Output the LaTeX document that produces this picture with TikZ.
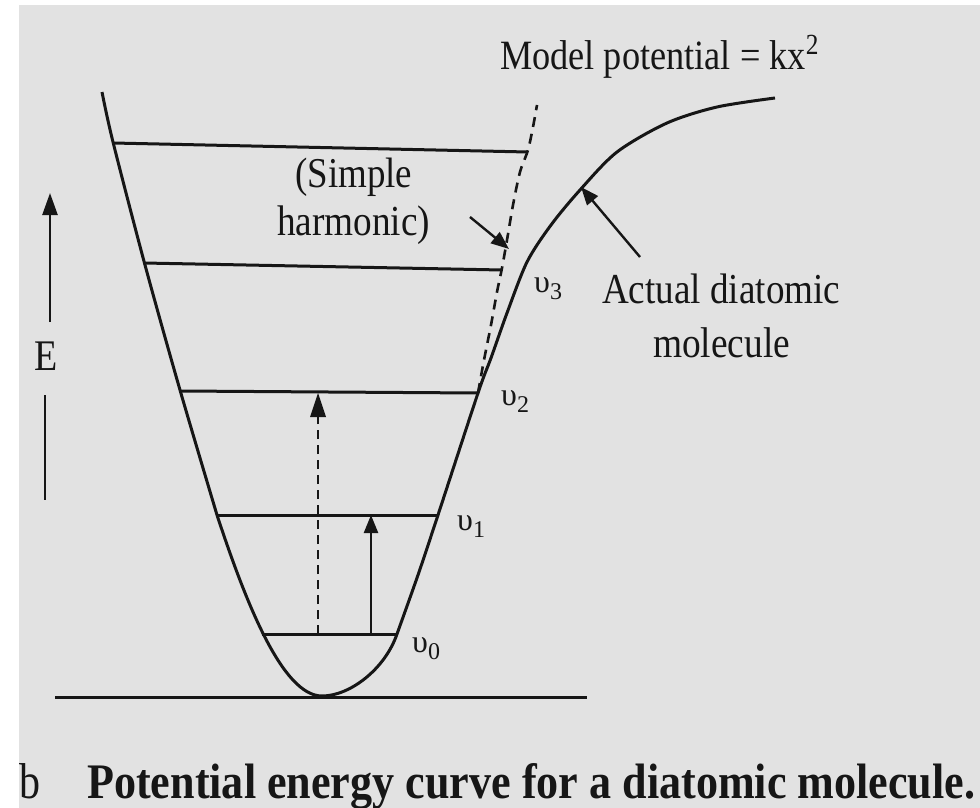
\documentclass[tikz,border=0pt]{standalone}
\usepackage{fontspec}
\usepackage{graphicx}
\setmainfont{Liberation Serif}
\usetikzlibrary{arrows.meta}
\definecolor{bg}{RGB}{226,226,226}
\definecolor{ink}{RGB}{22,22,22}
\newcommand\fitw[2]{\scalebox{1}[1.15]{\resizebox{#1}{!}{#2}}}
\newcommand\vlev[1]{υ\raisebox{-7pt}{\fontsize{24}{28}\selectfont #1}}
\tikzset{
  curve/.style={ink, line width=3pt, line join=round},
  level/.style={ink, line width=3pt},
  harm/.style={ink, line width=2.6pt, dash pattern=on 10pt off 7pt},
  lbl/.style={ink, inner sep=0pt, anchor=base west},
  vlbl/.style={ink, inner sep=0pt, anchor=base west, font=\fontsize{32}{38}\selectfont},
  tip/.style={-{Triangle[length=18pt,width=14pt]}},
}
\begin{document}
\begin{tikzpicture}[x=1pt,y=-1pt]
\useasboundingbox (0,0) rectangle (980,808);
\fill[white] (0,0) rectangle (980,808);
\fill[bg] (19,5) rectangle (980,808);

% baseline
\coordinate (bl) at (55,697);
\coordinate (br) at (587,697);
\draw[level] (bl) -- (br);

% actual potential (Morse-like)
\draw[curve] plot[smooth, tension=0.5] coordinates {
 (102,92) (113,142) (145,265) (180,390) (217,515)}
 .. controls (245,600) and (282,696) .. (322,696)
 .. controls (350,696) and (385,669) .. (397,634)
 -- plot[smooth, tension=0.5] coordinates {
 (397,634) (418,575) (438,515) (478,393)
 (491,358) (507,313) (527,262) (551,225) (580,190) (617,152) (667,123)
 (717,107) (775,98)};

% harmonic (dashed)
\draw[harm] plot[smooth, tension=0.5] coordinates {
 (478,393) (484,360) (491,325) (497,292) (502,268) (507,240) (513,205)
 (520,172) (528,150) (533,127) (537,105)};

% energy levels
\coordinate (l4a) at (113,143); \coordinate (l4b) at (528,152);
\coordinate (l3a) at (144,263); \coordinate (l3b) at (502,270);
\coordinate (l2a) at (180,391); \coordinate (l2b) at (478,393);
\coordinate (l1a) at (217,515); \coordinate (l1b) at (438,515);
\coordinate (l0a) at (262,634); \coordinate (l0b) at (397,634);
\draw[level] (l4a) -- (l4b);
\draw[level] (l3a) -- (l3b);
\draw[level] (l2a) -- (l2b);
\draw[level] (l1a) -- (l1b);
\draw[level] (l0a) -- (l0b);

% transitions
\coordinate (d0) at (318,634); \coordinate (d2) at (318,393);
\coordinate (s0) at (371,634); \coordinate (s1) at (371,515);
\draw[ink, line width=2.2pt, dash pattern=on 9pt off 6pt] (d0) -- ++(0,-220);
\fill[ink] (d2) -- ++(-8,24) -- ++(16,0) -- cycle;
\draw[ink, line width=2.4pt, tip] (s0) -- (s1);

% E axis
\coordinate (e0) at (50,322); \coordinate (e1) at (50,193);
\draw[ink, line width=2.4pt, -{Triangle[length=22pt,width=15pt]}] (e0) -- (e1);
\coordinate (e2) at (45,395); \coordinate (e3) at (45,500);
\draw[ink, line width=2.4pt] (e2) -- (e3);
\node[lbl] (E) at (34,370) {\scalebox{1}[1.15]{\fontsize{38}{44}\selectfont E}};

% pointer arrows
\coordinate (ha) at (470,217); \coordinate (hb) at (509,249);
\draw[ink, line width=2.4pt, tip] (ha) -- (hb);
\coordinate (aa) at (640,257); \coordinate (ab) at (581,187);
\draw[ink, line width=2.4pt, tip] (aa) -- (ab);

% labels
\node[lbl] (model) at (500,70) {\fitw{320pt}{Model potential = kx\textsuperscript{2}}};
\node[lbl] (simp) at (295,187) {\fitw{117pt}{(Simple}};
\node[lbl] (harm) at (277,235) {\fitw{153pt}{harmonic)}};
\node[lbl] (act) at (602,303) {\fitw{238pt}{Actual diatomic}};
\node[lbl] (mol) at (653,357) {\fitw{137pt}{molecule}};

\node[vlbl] (v3) at (534,292) {\vlev{3}};
\node[vlbl] (v2) at (501,405) {\vlev{2}};
\node[vlbl] (v1) at (457,530) {\vlev{1}};
\node[vlbl] (v0) at (412,652) {\vlev{0}};

% caption
\node[lbl] (capb) at (19,798) {\scalebox{1}[1.2]{\fontsize{42}{46}\selectfont b}};
\node[lbl] (cap) at (87,798) {\resizebox{888pt}{35pt}{\bfseries Potential energy curve for a diatomic molecule.}};
\end{tikzpicture}
\end{document}
